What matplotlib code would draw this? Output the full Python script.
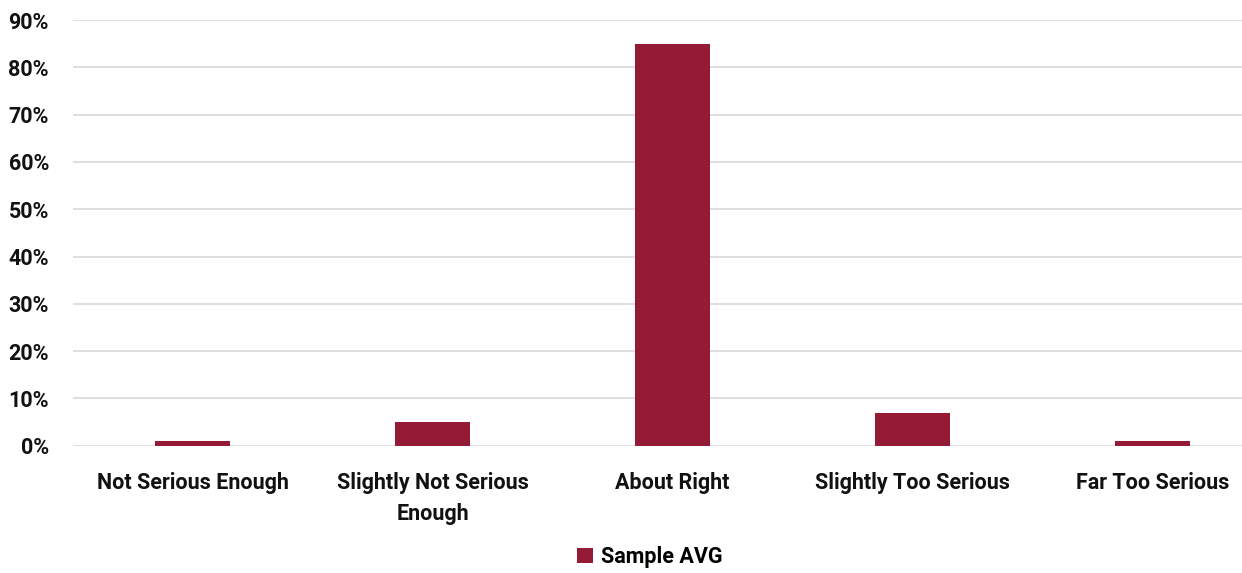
import matplotlib
matplotlib.use("Agg")
import matplotlib.pyplot as plt
from matplotlib.ticker import FuncFormatter, MultipleLocator

categories = ["Not Serious Enough", "Slightly Not Serious\nEnough", "About Right",
              "Slightly Too Serious", "Far Too Serious"]
sample_avg = [1, 5, 85, 7, 1]
series_name = "Sample AVG"

plt.rcParams['font.family'] = ['Roboto', 'DejaVu Sans']
plt.rcParams['font.weight'] = 'bold'

fig = plt.figure(figsize=(12.42, 5.73), dpi=100)
# plot area runs slightly past the right edge of the canvas
ax = fig.add_axes([0.0584, 0.222, 0.966, 0.743])

x = range(len(categories))
ax.bar(x, sample_avg, width=0.3125, color="#951A36", label=series_name, zorder=3)

ax.set_xlim(-0.5, len(categories) - 0.5)
ax.set_ylim(0, 90)
ax.yaxis.set_major_locator(MultipleLocator(10))
ax.yaxis.set_major_formatter(FuncFormatter(lambda v, p: f"{v:.0f}%"))
ax.grid(axis="y", color="#d9d9d9", linewidth=1.2, zorder=0)
for s in ax.spines.values():
    s.set_visible(False)
ax.tick_params(axis="both", length=0, labelsize=15.5, colors="#111111")
ax.tick_params(axis="y", pad=17)
ax.tick_params(axis="x", pad=19)
ax.set_xticks(list(x))
ax.set_xticklabels(categories, fontweight="bold", linespacing=1.5)
for lbl in ax.get_yticklabels():
    lbl.set_fontweight("bold")

fig.legend(loc="center", bbox_to_anchor=(0.523, 0.028), ncol=1, frameon=False,
           prop={"size": 15.5, "weight": "bold"}, handlelength=0.75, handleheight=0.75,
           handletextpad=0.35)

fig.savefig("out.png", dpi=100)
